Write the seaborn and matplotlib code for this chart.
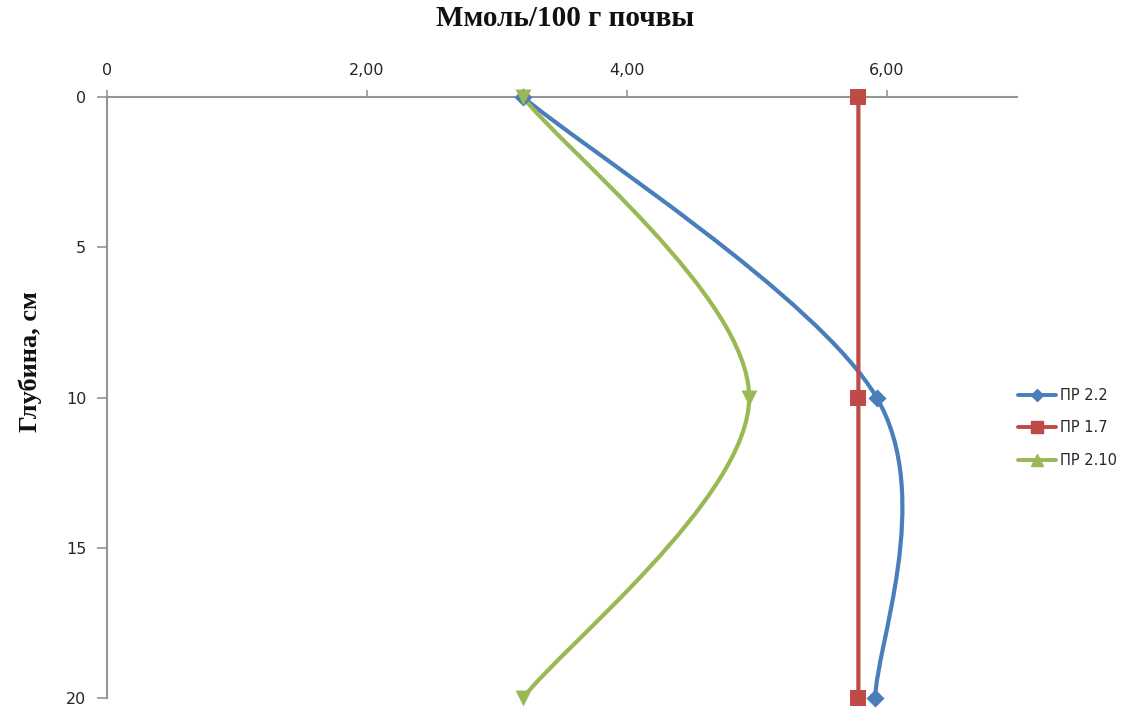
import numpy as np
import pandas as pd
import seaborn as sns
import matplotlib
matplotlib.use("Agg")
import matplotlib.pyplot as plt
from matplotlib.path import Path
from matplotlib.patches import PathPatch
from matplotlib.lines import Line2D

# Soil profile data: exchangeable content (mmol / 100 g soil) by depth
depth = [0, 10, 20]
series_names = ["ПР 2.2", "ПР 1.7", "ПР 2.10"]
pr_2_2 = [3.20, 5.92, 5.91]
pr_1_7 = [5.78, 5.78, 5.78]
pr_2_10 = [3.20, 4.94, 3.20]

x_ticks = [0, 2, 4, 6]
x_tick_labels = ["0", "2,00", "4,00", "6,00"]
y_ticks = [0, 5, 10, 15, 20]

colors = {"ПР 2.2": "#4A7EBB", "ПР 1.7": "#BE4B48", "ПР 2.10": "#98B954"}
markers = {"ПР 2.2": "D", "ПР 1.7": "s", "ПР 2.10": "v"}
legend_markers = {"ПР 2.2": "D", "ПР 1.7": "s", "ПР 2.10": "^"}
marker_sizes = {"ПР 2.2": 85, "ПР 1.7": 140, "ПР 2.10": 130}

df = pd.DataFrame({
    "depth": depth * 3,
    "value": pr_2_2 + pr_1_7 + pr_2_10,
    "series": np.repeat(series_names, len(depth)),
})

sns.set_theme(style="white")
plt.rcParams["font.family"] = ["DejaVu Sans"]

fig = plt.figure(figsize=(11.42, 7.13), dpi=100)
ax = fig.add_axes([107 / 1142, 1 - 698 / 713, (1017 - 107) / 1142, (698 - 97) / 713])


def smooth_path(xs, ys):
    """Cubic Bezier path through the points (Catmull-Rom style smoothing)."""
    pts = np.column_stack([xs, ys]).astype(float)
    n = len(pts)
    verts = [pts[0]]
    codes = [Path.MOVETO]
    for i in range(n - 1):
        p0 = pts[i - 1] if i > 0 else pts[i]
        p1 = pts[i]
        p2 = pts[i + 1]
        p3 = pts[i + 2] if i + 2 < n else pts[i + 1]
        c1 = p1 + (p2 - p0) / 6.0
        c2 = p2 - (p3 - p1) / 6.0
        verts += [c1, c2, p2]
        codes += [Path.CURVE4] * 3
    return Path(verts, codes)


for name in series_names:
    sub = df[df["series"] == name]
    path = smooth_path(sub["value"].values, sub["depth"].values)
    ax.add_patch(PathPatch(path, facecolor="none", edgecolor=colors[name],
                           lw=3.0, capstyle="round", joinstyle="round",
                           zorder=2, clip_on=False))
    sns.scatterplot(data=sub, x="value", y="depth", ax=ax, color=colors[name],
                    marker=markers[name], s=marker_sizes[name], linewidth=0,
                    zorder=3, clip_on=False, legend=False)

ax.set_xlim(0, 7)
ax.set_ylim(20, 0)
ax.set_xticks(x_ticks)
ax.set_xticklabels(x_tick_labels)
ax.set_yticks(y_ticks)
ax.xaxis.tick_top()
ax.xaxis.set_label_position("top")

for side in ["right", "bottom"]:
    ax.spines[side].set_visible(False)
for side in ["top", "left"]:
    ax.spines[side].set_color("#959595")
    ax.spines[side].set_linewidth(1.5)

ax.tick_params(axis="x", which="major", direction="out", length=5, width=1.2,
               color="#959595", pad=9, labelsize=11.5, labelcolor="#262626",
               top=True, bottom=False)
ax.tick_params(axis="y", which="major", direction="out", length=7, width=1.2,
               color="#959595", pad=8, labelsize=11.5, labelcolor="#262626",
               left=True)

ax.set_xlabel("")
ax.set_ylabel("")
fig.text(565 / 1142, 1 - 18 / 713, "Ммоль/100 г почвы", ha="center", va="center",
         fontsize=21, fontweight="bold", family=["Liberation Serif"], color="#111111")
fig.text(30 / 1142, 1 - 362 / 713, "Глубина, см", ha="center", va="center",
         rotation=90, fontsize=19, fontweight="bold", family=["Liberation Serif"],
         color="#111111")

handles = [Line2D([0], [0], color=colors[n], lw=2.8, marker=legend_markers[n],
                  markersize=8 if n != "ПР 2.2" else 6) for n in series_names]
fig.legend(handles, series_names, loc="center left",
           bbox_to_anchor=(1005 / 1142, 1 - 428 / 713), frameon=False,
           fontsize=10.5, handlelength=2.6, labelspacing=1.2, handletextpad=0.3,
           labelcolor="#262626")

fig.savefig("out.png", dpi=100, facecolor="white")
